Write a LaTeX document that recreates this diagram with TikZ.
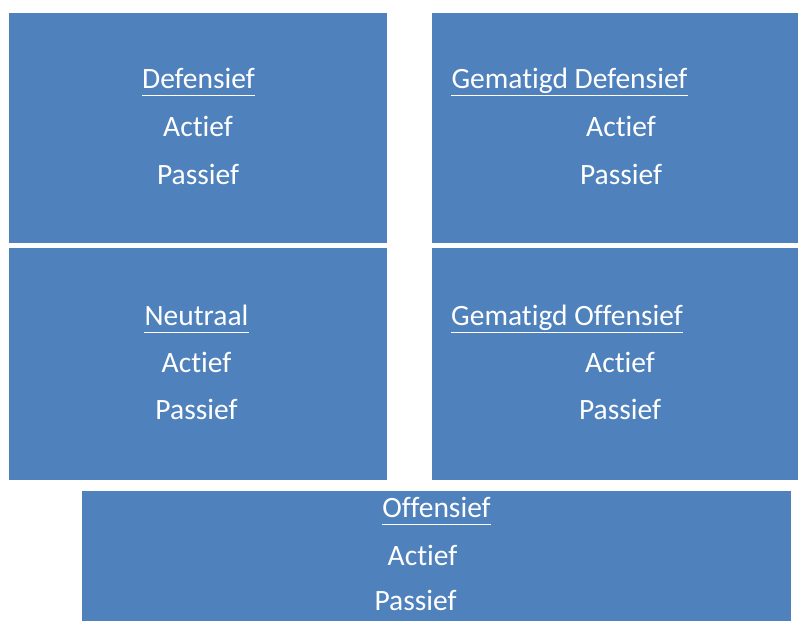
\documentclass[tikz,border=0pt]{standalone}
\usepackage{fontspec}
\setmainfont[Ligatures={NoCommon}]{Carlito}
\definecolor{boxblue}{HTML}{4F81BD}
\begin{document}
\begin{tikzpicture}[x=1pt,y=-1pt,
  panel/.style={fill=boxblue,draw=none},
  txt/.style={text=white,inner sep=0pt,anchor=base,font=\fontsize{29.5}{35}\selectfont},
  uline/.style={draw=white,line width=1.8pt}]
\useasboundingbox (0,0) rectangle (798,621);
\fill[white] (0,0) rectangle (798,621);
% panels
\path[panel] (9,13) rectangle (387,243);
\path[panel] (432,13) rectangle (798,243);
\path[panel] (9,248) rectangle (387,480);
\path[panel] (432,248) rectangle (798,480);
\path[panel] (82,491) rectangle (791,621);
% box 1
\node[txt] (t1) at (198.5,88) {Defensief};
\node[txt] (a1) at (198,136) {Actief};
\node[txt] (p1) at (198,184) {Passief};
% box 2
\node[txt] (t2) at (569.5,88) {Gematigd Defensief};
\node[txt] (a2) at (621,136) {Actief};
\node[txt] (p2) at (621,184) {Passief};
% box 3
\node[txt] (t3) at (196.5,325) {Neutraal};
\node[txt] (a3) at (196.5,372) {Actief};
\node[txt] (p3) at (196.5,419) {Passief};
% box 4
\node[txt] (t4) at (567,325) {Gematigd Offensief};
\node[txt] (a4) at (620,372) {Actief};
\node[txt] (p4) at (620,419) {Passief};
% box 5
\node[txt] (t5) at (436.5,517) {Offensief};
\node[txt] (a5) at (422.5,565) {Actief};
\node[txt] (p5) at (415.5,610) {Passief};
% underlines
\foreach \n in {t1,t2,t3,t4,t5}{
  \draw[uline] ([yshift=-7.5pt]\n.base west) -- ([yshift=-7.5pt]\n.base east);
}
\end{tikzpicture}
\end{document}
